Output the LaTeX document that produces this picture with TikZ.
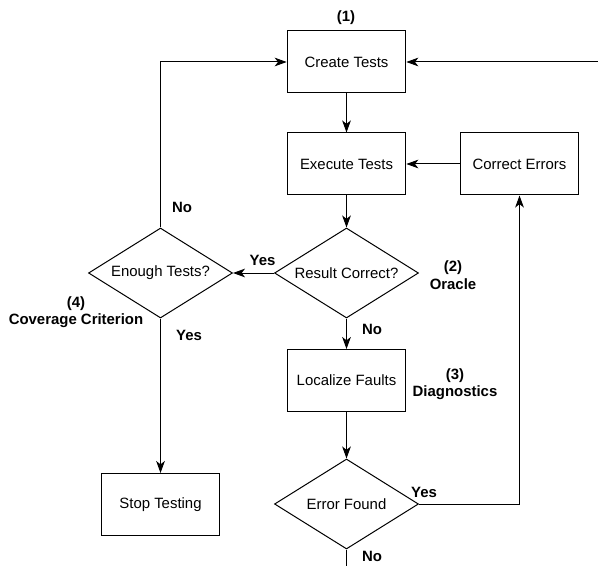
\documentclass[tikz,border=0pt]{standalone}
\usepackage{fontspec}
\setmainfont{Liberation Sans}
\usetikzlibrary{calc}
\usetikzlibrary{arrows.meta, shapes.geometric}

\begin{document}
\begin{tikzpicture}[x=0.75pt, y=-0.75pt, font=\fontsize{11.2}{13}\selectfont,
    line width=0.75pt, >={Stealth[length=9pt, width=6.5pt, inset=2.5pt]},
    stepbox/.style={draw, rectangle, minimum width=89pt, minimum height=46.5pt, inner sep=0pt},
    decide/.style={draw, diamond, aspect=1.6, minimum width=108pt, minimum height=67.5pt, inner sep=0pt},
    tag/.style={font=\fontsize{11.2}{13}\selectfont\bfseries, align=center}]

    \useasboundingbox (0,0) rectangle (598,566);

    \node[stepbox] (create) at (346.5, 62) {Create Tests};
    \node[stepbox] (execute) at (346.5, 164) {Execute Tests};
    \node[stepbox] (correct) at (519.5, 164) {Correct Errors};
    \node[decide] (result) at (346.5, 273) {Result Correct?};
    \node[decide] (enough) at (160.5, 273) {Enough Tests?};
    \node[stepbox] (localize) at (346.5, 380.5) {Localize Faults};
    \node[decide] (found) at (346.5, 504) {Error Found};
    \node[stepbox] (stop) at (160.5, 504.5) {Stop Testing};

    \coordinate (in) at (598, 62);
    \coordinate (out) at (346.5, 566);

    \node[tag] (n1) at (346, 18) {(1)};
    \node[tag] (n2) at (453, 275) {(2)\\Oracle};
    \node[tag] (n3) at (455, 384) {(3)\\Diagnostics};
    \node[tag] (n4) at (76, 312) {(4)\\Coverage Criterion};

    \draw[->] (create) -- (execute);
    \draw[->] (execute) -- (result);
    \draw[->] (correct) -- (execute);
    \draw[->] (in) -- (create);

    \draw[->] (result.west) -- node[tag, above=2pt, pos=0.28]{Yes} (enough.east);
    \draw[->] (result.south) -- node[tag, right=8pt, pos=0.35]{No} (localize.north);
    \draw[->] (localize) -- (found.north);

    \draw[->] (found.east) -- node[tag, above=1pt, pos=0.05]{Yes} (found.east -| correct.south) -- (correct.south);
    \draw (found.south) -- node[tag, right=8pt, pos=0.4]{No} (out);

    \draw[->] (enough.north) -- node[tag, right=5pt, pos=0.12]{No} (enough.north |- create.west) -- (create.west);
    \draw[->] (enough.south) -- node[tag, right=8pt, pos=0.11]{Yes} (stop.north);

\end{tikzpicture}
\end{document}
